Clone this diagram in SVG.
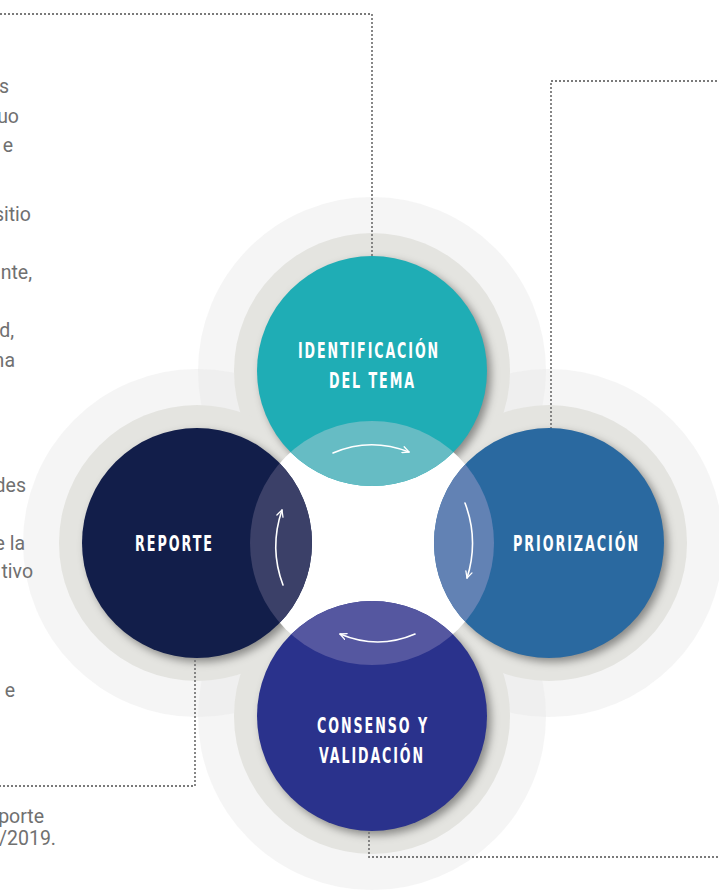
<svg xmlns="http://www.w3.org/2000/svg" width="719" height="892" viewBox="0 0 719 892">
<style>
.light{fill:#e6e6e6;fill-opacity:0.42}
.grey{fill:#e4e4e0}
.shadow{fill:#000;fill-opacity:0.4;filter:url(#blur)}
.lbl{font-family:"DejaVu Sans","Liberation Sans",sans-serif;font-stretch:condensed;font-weight:bold;font-size:22px;fill:#fff;letter-spacing:3px}
.side{font-family:Roboto,"Open Sans","Liberation Sans",sans-serif;font-weight:normal;font-size:19.5px;fill:#707070;text-anchor:end}
.dot{fill:none;stroke:#7a7a7a;stroke-width:1.8;stroke-dasharray:2 2}
.arr{fill:none;stroke:#fff;stroke-width:1.6;stroke-linecap:round;marker-end:url(#head)}
</style>
<defs>
<filter id="blur" x="-20%" y="-20%" width="140%" height="140%"><feGaussianBlur stdDeviation="4"/></filter>
<marker id="head" viewBox="0 0 10 10" refX="9" refY="5" markerWidth="8" markerHeight="8" markerUnits="userSpaceOnUse" orient="auto">
<path d="M1,1 L9,5 L1,9" fill="none" stroke="#fff" stroke-width="1.6" stroke-linecap="round" stroke-linejoin="round"/>
</marker>
<clipPath id="cT"><circle cx="372" cy="371" r="115"/></clipPath>
<clipPath id="cR"><circle cx="549" cy="543" r="115"/></clipPath>
<clipPath id="cB"><circle cx="372" cy="716" r="115"/></clipPath>
<clipPath id="cL"><circle cx="197" cy="543" r="115"/></clipPath>
</defs>
<rect width="719" height="892" fill="#fff"/>

<g id="background-rings">
<circle class="light" cx="372" cy="371" r="174"/>
<circle class="light" cx="549" cy="543" r="174"/>
<circle class="light" cx="372" cy="716" r="174"/>
<circle class="light" cx="197" cy="543" r="174"/>
<circle class="grey" cx="372" cy="371" r="138"/>
<circle class="grey" cx="549" cy="543" r="138"/>
<circle class="grey" cx="372" cy="716" r="138"/>
<circle class="grey" cx="197" cy="543" r="138"/>
<circle class="shadow" cx="376" cy="375" r="115"/>
<circle class="shadow" cx="553" cy="547" r="115"/>
<circle class="shadow" cx="376" cy="720" r="115"/>
<circle class="shadow" cx="201" cy="547" r="115"/>
<circle cx="372" cy="543" r="122" fill="#fff"/>
</g>

<g id="side-text">
<text class="side" x="9" y="93">s</text>
<text class="side" x="19" y="123">uo</text>
<text class="side" x="13" y="152">e</text>
<text class="side" x="31" y="221">sitio</text>
<text class="side" x="32" y="279">nte,</text>
<text class="side" x="14" y="337">d,</text>
<text class="side" x="15" y="367">na</text>
<text class="side" x="26" y="492">des</text>
<text class="side" x="25" y="550">e la</text>
<text class="side" x="33" y="578">tivo</text>
<text class="side" x="15" y="697">e</text>
<text class="side" x="44" y="823">porte</text>
<text class="side" x="56" y="845">/2019.</text>
</g>

<g id="connectors">
<polyline class="dot" points="0,14 372,14 372,263"/>
<polyline class="dot" points="551,441 551,81 719,81"/>
<polyline class="dot" points="195,652 195,786 0,786"/>
<polyline class="dot" points="369,832 369,857 719,857"/>
</g>

<g id="node-identificacion">
<circle cx="372" cy="371" r="115" fill="#1fadb5"/>
<circle cx="372" cy="543" r="122" fill="#66bcc4" clip-path="url(#cT)"/>
<text class="lbl" x="298" y="358" textLength="142" lengthAdjust="spacingAndGlyphs">IDENTIFICACIÓN</text>
<text class="lbl" x="329" y="388" textLength="87" lengthAdjust="spacingAndGlyphs">DEL TEMA</text>
</g>

<g id="node-priorizacion">
<circle cx="549" cy="543" r="115" fill="#2a69a0"/>
<circle cx="372" cy="543" r="122" fill="#6282b4" clip-path="url(#cR)"/>
<text class="lbl" x="513" y="551" textLength="127" lengthAdjust="spacingAndGlyphs">PRIORIZACIÓN</text>
</g>

<g id="node-consenso">
<circle cx="372" cy="716" r="115" fill="#2a328c"/>
<circle cx="372" cy="543" r="122" fill="#5557a0" clip-path="url(#cB)"/>
<text class="lbl" x="317" y="733" textLength="112" lengthAdjust="spacingAndGlyphs">CONSENSO Y</text>
<text class="lbl" x="319" y="763" textLength="106" lengthAdjust="spacingAndGlyphs">VALIDACIÓN</text>
</g>

<g id="node-reporte">
<circle cx="197" cy="543" r="115" fill="#121e4a"/>
<circle cx="372" cy="543" r="122" fill="#3b4068" clip-path="url(#cL)"/>
<text class="lbl" x="135" y="551" textLength="79" lengthAdjust="spacingAndGlyphs">REPORTE</text>
</g>

<g id="cycle-arrows">
<path class="arr" d="M333,453 Q370,437 409,452"/>
<path class="arr" d="M465,503 Q479,540 467,578"/>
<path class="arr" d="M415,634 Q378,650 340,634"/>
<path class="arr" d="M283,585 Q269,548 282,510"/>
</g>
</svg>
